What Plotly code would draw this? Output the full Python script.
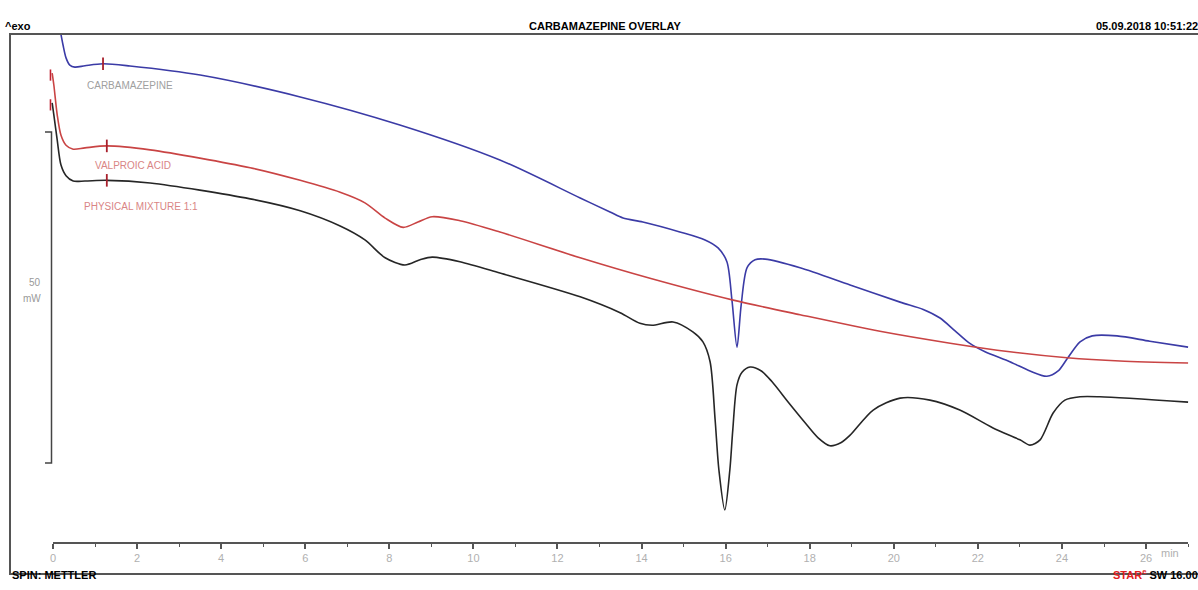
import plotly.graph_objects as go

# ---- data (time in min, heat flow in mW, relative) ----
carb_t = [0.17, 0.24, 0.31, 0.40, 0.52, 0.76, 1.19, 1.83, 3.50, 5.88, 8.25, 10.63, 12.54, 13.25, 13.56,
          14.03, 14.91, 15.51, 15.82, 16.03, 16.15, 16.27, 16.37, 16.51, 16.70, 16.94, 17.77, 18.96,
          20.15, 20.70, 21.10, 21.45, 21.80, 22.17, 22.76, 23.24, 23.64, 23.91, 24.14, 24.43, 24.72,
          25.31, 26.09, 27.0]
carb_y = [65.4, 63.1, 61.2, 60.1, 59.8, 60.0, 60.3, 59.97, 58.6, 55.3, 51.06, 45.77, 40.03, 37.92, 37.0,
          36.4, 34.9, 33.7, 32.5, 30.4, 24.6, 17.5, 23.9, 29.5, 30.7, 30.8, 29.5, 26.9,
          24.3, 23.2, 21.9, 20.0, 18.1, 16.8, 15.3, 13.9, 13.1, 13.9, 15.9, 18.3, 19.2,
          19.2, 18.4, 17.5]

valp_t = [-0.02, 0.02, 0.10, 0.19, 0.31, 0.48, 0.76, 1.28, 2.31, 4.69, 5.88, 6.83, 7.42, 7.90, 8.33,
          8.68, 9.02, 9.68, 10.63, 12.54, 14.20, 16.18, 17.77, 19.67, 21.34, 22.76, 24.12, 25.38, 27.0]
valp_y = [58.9, 57.1, 52.6, 49.5, 48.0, 47.4, 47.6, 47.9, 47.3, 44.6, 42.7, 40.9, 39.3, 37.0, 35.6,
          36.4, 37.2, 36.6, 34.9, 31.0, 27.9, 24.6, 22.4, 19.9, 18.1, 16.8, 15.9, 15.4, 15.1]

mix_t = [-0.02, 0.02, 0.10, 0.19, 0.31, 0.48, 0.76, 1.28, 2.31, 4.69, 5.88, 6.83, 7.42, 7.90, 8.37,
         8.73, 9.02, 9.68, 10.63, 12.54, 13.49, 13.96, 14.25, 14.75, 15.22, 15.46, 15.63, 15.75,
         15.84, 15.98, 16.10, 16.17, 16.27, 16.39, 16.58, 16.85, 17.10, 17.50, 17.90, 18.20, 18.48,
         18.75, 18.96, 19.51, 20.15, 20.86, 21.57, 22.36, 23.00, 23.24, 23.48, 23.79, 24.07, 24.43,
         24.90, 27.0]
mix_y = [54.4, 52.6, 48.8, 45.0, 43.4, 42.6, 42.6, 42.7, 42.3, 39.9, 38.1, 35.8, 33.7, 31.0, 29.9,
         30.7, 31.1, 30.4, 28.7, 25.1, 22.7, 21.1, 20.8, 21.3, 19.8, 18.3, 15.3, 6.5,
         -1.06, -7.1, -1.06, 5.0, 11.8, 13.7, 14.5, 13.9, 12.3, 9.1, 6.0, 3.8, 2.6,
         3.1, 4.2, 8.0, 9.8, 9.5, 8.0, 5.3, 3.5, 2.7, 3.5, 7.55, 9.5, 10.0,
         10.0, 9.2]

# evaluation limit markers (time, value)
limit_t = [1.19, 1.28, 1.28]
limit_y = [60.3, 47.9, 42.7]
start_t = [-0.06, -0.06]
start_y = [58.6, 54.1]

x_ticks = list(range(0, 28, 2))
scale_mw = 50

BLUE = "#3b3ba6"
RED = "#c94444"
BLACK = "#262626"
FONT = "Liberation Sans"

fig = go.Figure()
fig.add_trace(go.Scatter(x=carb_t, y=carb_y, mode="lines", line=dict(color=BLUE, width=1.6, shape="spline", smoothing=0.8),
                         hoverinfo="skip", showlegend=False))
fig.add_trace(go.Scatter(x=valp_t, y=valp_y, mode="lines", line=dict(color=RED, width=1.6, shape="spline", smoothing=0.8),
                         hoverinfo="skip", showlegend=False))
fig.add_trace(go.Scatter(x=mix_t, y=mix_y, mode="lines", line=dict(color=BLACK, width=1.6, shape="spline", smoothing=0.8),
                         hoverinfo="skip", showlegend=False))
fig.add_trace(go.Scatter(x=limit_t, y=limit_y, mode="markers",
                         marker=dict(symbol="line-ns", size=9, line=dict(color="#a8202c", width=1.8)),
                         hoverinfo="skip", showlegend=False))
fig.add_trace(go.Scatter(x=start_t, y=start_y, mode="markers",
                         marker=dict(symbol="line-ns", size=8, line=dict(color="#c02030", width=1.6)),
                         hoverinfo="skip", showlegend=False))
# dummy trace for the displayed time axis
fig.add_trace(go.Scatter(x=[0, 27], y=[None, None], xaxis="x2", yaxis="y", mode="lines",
                         hoverinfo="skip", showlegend=False))

# plot area pixel geometry: left 11, right 1198, top 35, bottom 573
L, R, T, B = 11, 1198, 35, 573
W, H = 1198, 590
x0_px, px_per_min = 53, 42.04
y0_px, px_per_mw = 463, 6.62
xr = [(L - x0_px) / px_per_min, (R - x0_px) / px_per_min]
yr = [(y0_px - B) / px_per_mw, (y0_px - T) / px_per_mw]

axis_col = "#555555"
fig.update_layout(
    width=W, height=H, margin=dict(l=L, r=W - R, t=T, b=H - B),
    paper_bgcolor="white", plot_bgcolor="rgba(0,0,0,0)",
    font=dict(family=FONT),
    xaxis=dict(range=xr, showline=True, mirror=True, linecolor=axis_col, linewidth=1.5,
               showticklabels=False, ticks="", showgrid=False, zeroline=False),
    yaxis=dict(range=yr, showline=True, linecolor=axis_col, linewidth=1.5,
               showticklabels=False, ticks="", showgrid=False, zeroline=False),
    xaxis2=dict(anchor="free", position=(B - 543) / (B - T),
                domain=[(x0_px - L) / (R - L), (x0_px + 27 * px_per_min - L) / (R - L)],
                range=[0, 27], showline=True, linecolor=axis_col, linewidth=1.5,
                tickmode="array", tickvals=x_ticks, ticktext=[str(v) for v in x_ticks],
                ticks="outside", ticklen=5, tickwidth=1.5, tickcolor=axis_col,
                minor=dict(dtick=1, tick0=0, ticks="outside", ticklen=3, tickwidth=1.2, tickcolor=axis_col),
                showgrid=False, zeroline=False, tickfont=dict(size=11, color="#b0b0b0", family=FONT)),
)

# scale bar (50 mW)
bx0, bx1 = (45 - x0_px) / px_per_min, (51.5 - x0_px) / px_per_min
fig.add_shape(type="path", xref="x", yref="y",
              path=f"M {bx0},{scale_mw} L {bx1},{scale_mw} L {bx1},0 L {bx0},0",
              line=dict(color="#444", width=1.5))
fig.add_annotation(x=(43 - x0_px) / px_per_min, y=(y0_px - 282) / px_per_mw, xref="x", yref="y",
                   text=str(scale_mw), showarrow=False, xanchor="right", font=dict(size=10, color="#999"))
fig.add_annotation(x=(43 - x0_px) / px_per_min, y=(y0_px - 298) / px_per_mw, xref="x", yref="y",
                   text="mW", showarrow=False, xanchor="right", font=dict(size=10, color="#999"))

# curve labels
fig.add_annotation(x=1.83, y=56.95, xref="x", yref="y", text="CARBAMAZEPINE", showarrow=False,
                   font=dict(size=10, color="#a0a0a0"))
fig.add_annotation(x=1.90, y=45.0, xref="x", yref="y", text="VALPROIC ACID", showarrow=False,
                   font=dict(size=10, color="#d98585"))
fig.add_annotation(x=2.09, y=38.7, xref="x", yref="y", text="PHYSICAL MIXTURE 1:1", showarrow=False,
                   font=dict(size=10, color="#d98585"))

def px_x(p):
    return (p - L) / (R - L)

def px_y(p):
    return (B - p) / (B - T)

hdr = dict(size=11, color="black", family=FONT)
fig.add_annotation(x=px_x(3), y=px_y(18), xref="paper", yref="paper", text="<b>^exo</b>",
                   showarrow=False, xanchor="left", font=hdr)
fig.add_annotation(x=px_x(605), y=px_y(18), xref="paper", yref="paper", text="<b>CARBAMAZEPINE OVERLAY</b>",
                   showarrow=False, xanchor="center", font=hdr)
fig.add_annotation(x=px_x(1200), y=px_y(18), xref="paper", yref="paper", text="<b>05.09.2018 10:51:22</b>",
                   showarrow=False, xanchor="right", font=hdr)
fig.add_annotation(x=px_x(10), y=px_y(583), xref="paper", yref="paper", text="<b>SPIN: METTLER</b>",
                   showarrow=False, xanchor="left", font=hdr)
fig.add_annotation(x=px_x(1200), y=px_y(583), xref="paper", yref="paper",
                   text="<b><span style='color:#e02020'>STAR<sup>e</sup></span> SW 16.00</b>",
                   showarrow=False, xanchor="right", font=hdr)
fig.add_annotation(x=px_x(1181), y=px_y(561), xref="paper", yref="paper", text="min",
                   showarrow=False, font=dict(size=11, color="#b0b0b0"))

fig.write_html("out.html")
